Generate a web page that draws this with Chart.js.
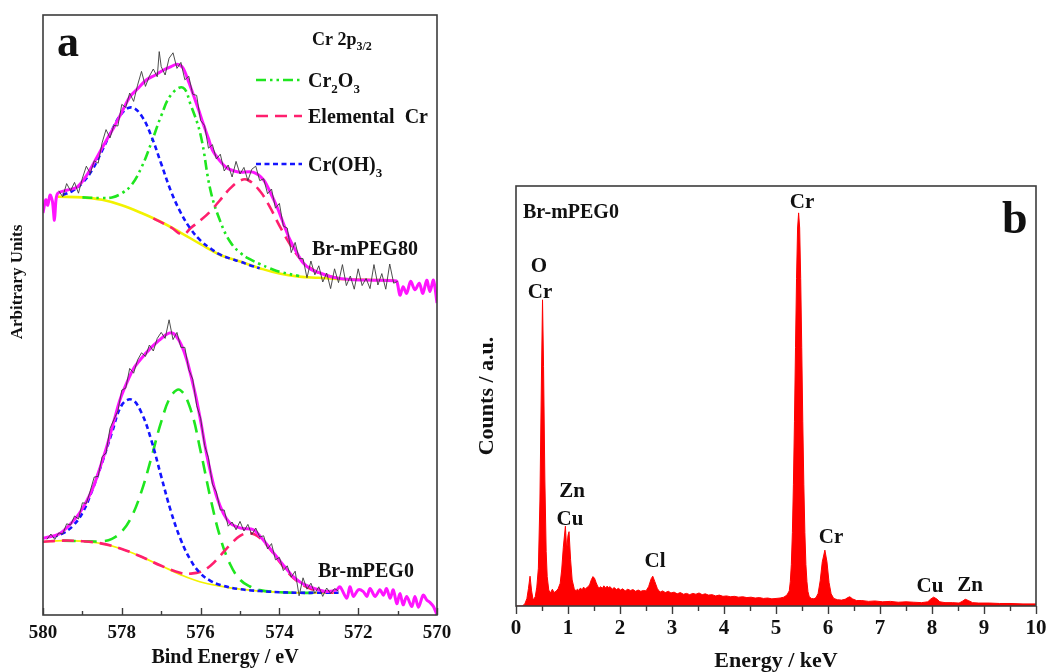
<!DOCTYPE html>
<html>
<head>
<meta charset="utf-8">
<script src="https://cdn.jsdelivr.net/npm/chart.js@4.4.1/dist/chart.umd.min.js"></script>
<style>
  html, body { margin: 0; padding: 0; background: #ffffff; }
  #wrap { position: relative; width: 1047px; height: 672px; overflow: hidden; }
  canvas { position: absolute; left: 0; top: 0; }
</style>
</head>
<body>
<div id="wrap">
  <canvas id="xps" width="1047" height="672"></canvas>
  <canvas id="eds" width="1047" height="672"></canvas>
</div>
<script>
// ---------- Panel a: Cr 2p3/2 XPS, binding energy (eV) vs intensity (arb.) ----------
const xpsTicks = [580, 578, 576, 574, 572, 570];
const xpsMinorTicks = [579, 577, 575, 573, 571];

// Br-mPEG80 (upper spectrum)
const peg80Raw = [[579.6,70.7],[579.5,69.7],[579.4,71.9],[579.3,70.7],[579.2,72.1],[579.1,70.3],[579.0,72.8],[578.9,74.8],[578.8,73.6],[578.7,75.7],[578.6,75.3],[578.5,78.7],[578.4,80.9],[578.3,79.5],[578.2,81.6],[578.1,81.5],[578.0,85.1],[577.9,84.6],[577.8,87.0],[577.7,85.6],[577.6,88.3],[577.5,90.6],[577.4,88.1],[577.3,89.8],[577.2,91.0],[577.1,89.7],[577.05,93.9],[577.0,91.4],[576.9,90.0],[576.8,92.8],[576.7,93.7],[576.6,91.1],[576.5,92.1],[576.4,89.2],[576.3,89.8],[576.2,86.8],[576.1,86.6],[576.0,82.4],[575.9,81.6],[575.8,77.8],[575.7,78.4],[575.6,76.0],[575.5,76.8],[575.4,74.0],[575.3,75.0],[575.2,73.0],[575.1,75.6],[575.0,73.5],[574.9,74.6],[574.8,72.4],[574.7,74.3],[574.6,74.8],[574.5,72.4],[574.4,72.7],[574.3,70.2],[574.2,71.0],[574.1,67.8],[574.0,68.6],[573.9,64.8],[573.8,64.5],[573.7,60.4],[573.6,62.1],[573.5,59.4],[573.4,59.4],[573.3,56.2],[573.2,59.0],[573.1,56.7],[573.0,58.2],[572.9,55.5],[572.8,57.0],[572.7,54.4],[572.6,57.7],[572.5,55.4],[572.4,58.4],[572.3,54.9],[572.2,56.5],[572.1,54.3],[572.0,57.7],[571.9,54.9],[571.8,56.1],[571.7,54.4],[571.6,58.4],[571.5,55.0],[571.4,56.9],[571.3,54.3],[571.2,58.5],[571.1,55.3],[571.0,55.6]];
const peg80Fit = [[580.0,67.0],[579.93,69.2],[579.88,68.3],[579.82,70.0],[579.76,68.9],[579.71,65.8],[579.67,69.2],[579.62,70.3],[579.4,70.8],[579.14,71.3],[578.9,73.2],[578.63,76.3],[578.4,79.0],[578.2,81.3],[578.0,83.8],[577.8,86.3],[577.6,87.7],[577.37,89.2],[577.15,90.0],[576.95,90.8],[576.75,91.4],[576.6,91.8],[576.45,91.2],[576.3,88.8],[576.2,87.0],[576.05,84.2],[575.94,82.0],[575.8,79.4],[575.7,77.5],[575.5,75.6],[575.33,74.5],[575.15,74.0],[575.0,73.8],[574.67,73.8],[574.4,72.5],[574.2,70.0],[574.06,68.0],[573.9,65.3],[573.73,62.5],[573.55,60.3],[573.4,58.7],[573.2,57.6],[572.97,57.0],[572.64,56.3],[572.2,55.9],[571.6,55.8],[571.1,55.7],[571.02,55.6],[570.94,53.3],[570.86,54.7],[570.77,53.6],[570.67,55.6],[570.56,54.2],[570.45,55.3],[570.36,53.6],[570.26,55.8],[570.18,53.9],[570.09,55.8],[570.0,52.0]];
const peg80Cr2O3 = [[579.0,69.6],[578.5,69.5],[578.25,69.6],[578.0,70.3],[577.75,71.7],[577.5,74.6],[577.25,78.7],[577.0,83.2],[576.75,86.7],[576.45,87.9],[576.25,85.0],[576.0,80.0],[575.75,70.8],[575.5,65.6],[575.25,62.2],[575.0,60.4],[574.75,59.3],[574.5,58.5],[574.25,57.8],[574.0,57.2],[573.5,56.5]];
const peg80Metal = [[577.2,66.1],[576.75,64.6],[576.45,63.4],[576.25,64.5],[576.0,65.8],[575.75,67.3],[575.5,69.2],[575.25,71.1],[575.0,72.4],[574.8,72.5],[574.5,70.7],[574.25,68.1],[574.0,64.9],[573.75,62.0],[573.5,59.6],[573.25,58.0],[573.0,57.0],[572.75,56.5],[572.5,56.1]];
const peg80Hydroxide = [[579.5,70.0],[579.25,70.7],[579.0,72.0],[578.75,74.2],[578.5,77.4],[578.25,80.8],[578.0,83.6],[577.75,84.6],[577.5,83.2],[577.25,79.8],[577.0,75.2],[576.75,70.6],[576.5,67.0],[576.25,64.3],[576.0,62.4],[575.75,61.1],[575.5,60.05],[575.25,59.4],[575.0,58.9],[574.75,58.3],[574.5,57.8]];
const peg80Baseline = [[579.62,69.7],[579.0,69.6],[578.5,69.2],[578.0,68.3],[577.5,67.0],[577.0,65.5],[576.5,63.7],[576.0,61.8],[575.5,60.0],[575.0,58.9],[574.5,57.8],[574.0,56.9],[573.5,56.4],[573.0,56.2],[572.5,56.0],[572.0,55.9],[571.1,55.8]];

// Br-mPEG0 (lower spectrum)
const peg0Raw = [[579.9,12.6],[579.8,13.5],[579.7,12.6],[579.6,13.7],[579.5,13.5],[579.4,15.2],[579.3,15.0],[579.2,16.5],[579.1,16.0],[579.0,18.7],[578.9,18.6],[578.8,20.7],[578.7,23.0],[578.6,23.1],[578.5,26.4],[578.4,27.0],[578.3,31.1],[578.2,32.6],[578.1,34.0],[578.0,37.5],[577.9,37.8],[577.8,41.1],[577.7,40.3],[577.6,42.5],[577.5,43.7],[577.4,43.1],[577.3,45.0],[577.2,44.0],[577.1,46.1],[577.0,47.1],[576.9,46.1],[576.8,49.2],[576.7,45.9],[576.6,47.1],[576.5,44.6],[576.4,44.6],[576.3,40.9],[576.2,39.3],[576.1,34.9],[576.0,32.8],[575.9,28.3],[575.8,26.2],[575.7,21.8],[575.6,20.5],[575.5,17.5],[575.4,17.5],[575.3,14.8],[575.2,15.5],[575.1,14.2],[575.0,15.6],[574.9,14.0],[574.8,15.1],[574.7,13.4],[574.6,14.5],[574.5,13.0],[574.4,13.2],[574.3,11.0],[574.2,11.9],[574.1,9.2],[574.0,9.6],[573.9,7.4],[573.8,8.2],[573.7,6.3],[573.6,7.3],[573.5,3.2],[573.4,6.2],[573.3,4.3],[573.2,5.3],[573.1,3.6],[573.0,4.7],[572.9,3.1],[572.8,4.5],[572.7,3.6],[572.6,4.4],[572.5,4.0]];
const peg0Fit = [[580.0,12.8],[579.57,13.6],[579.14,16.4],[578.9,18.9],[578.72,21.4],[578.55,24.6],[578.38,28.1],[578.2,32.3],[578.05,35.8],[577.88,38.6],[577.7,41.1],[577.5,42.8],[577.28,44.4],[577.05,45.8],[576.86,46.8],[576.72,47.0],[576.61,46.4],[576.48,44.9],[576.35,42.5],[576.22,39.2],[576.1,35.8],[575.97,31.3],[575.85,26.9],[575.72,23.0],[575.59,19.7],[575.42,16.9],[575.25,15.3],[575.08,14.7],[574.92,14.4],[574.66,14.2],[574.41,12.5],[574.24,11.1],[574.07,9.7],[573.86,8.0],[573.65,6.4],[573.43,5.3],[573.22,4.7],[573.0,4.2],[572.8,3.9],[572.55,4.2],[572.46,4.7],[572.29,2.8],[572.21,4.7],[572.12,3.1],[572.0,4.2],[571.87,3.9],[571.78,3.1],[571.7,4.4],[571.57,3.1],[571.45,4.2],[571.36,3.3],[571.28,4.4],[571.19,2.8],[571.11,4.2],[571.02,1.9],[570.94,3.6],[570.86,1.7],[570.77,3.1],[570.64,1.4],[570.56,3.1],[570.47,1.3],[570.35,3.3],[570.26,2.5],[570.18,2.1],[570.09,1.4],[570.0,0.0]];
const peg0Cr2O3 = [[579.5,12.4],[579.0,12.3],[578.5,12.3],[578.25,12.7],[578.0,13.9],[577.75,16.4],[577.5,20.6],[577.25,26.2],[577.0,32.2],[576.75,36.5],[576.52,37.5],[576.25,34.2],[576.0,27.3],[575.75,19.5],[575.5,12.9],[575.25,8.45],[575.0,5.9],[574.75,4.75],[574.5,4.15],[574.0,3.8],[573.5,3.7],[573.0,3.7]];
const peg0Metal = [[580.0,12.2],[579.5,12.4],[579.0,12.3],[578.5,11.9],[578.0,11.0],[577.5,9.7],[577.0,8.2],[576.5,7.0],[576.25,6.9],[576.0,7.2],[575.75,8.2],[575.5,9.9],[575.25,11.7],[575.0,13.2],[574.75,13.65],[574.5,12.9],[574.25,11.1],[574.0,8.9],[573.75,6.85],[573.5,5.4],[573.25,4.5],[573.0,4.0],[572.75,3.75],[572.5,3.7]];
const peg0Hydroxide = [[579.75,13.0],[579.5,13.6],[579.25,14.8],[579.0,17.0],[578.75,20.8],[578.5,25.4],[578.25,30.4],[578.0,35.0],[577.75,35.9],[577.5,33.7],[577.25,29.1],[577.0,23.1],[576.75,17.2],[576.5,12.5],[576.25,9.1],[576.0,6.9],[575.75,5.7],[575.5,5.0],[575.0,4.3],[574.5,4.0],[574.0,3.8],[573.5,3.7],[573.0,3.7],[572.5,3.7]];
const peg0Baseline = [[580.0,12.2],[579.5,12.4],[579.0,12.3],[578.5,11.9],[578.0,11.0],[577.5,9.7],[577.0,8.2],[576.5,6.7],[576.0,5.5],[575.5,4.8],[575.0,4.3],[574.5,4.0],[574.0,3.8],[573.5,3.7],[573.0,3.7],[572.5,3.7]];

// ---------- Panel b: EDS spectrum of Br-mPEG0, energy (keV) vs counts (a.u.) ----------
const edsTicks = [0, 1, 2, 3, 4, 5, 6, 7, 8, 9, 10];
const edsMinorTicks = [0.5, 1.5, 2.5, 3.5, 4.5, 5.5, 6.5, 7.5, 8.5, 9.5];
const edsSpectrum = [[0.00,0],[0.12,0],[0.17,0.5],[0.21,1.8],[0.24,4.2],[0.27,7.1],[0.30,3.6],[0.33,1.4],[0.37,2.2],[0.40,4.5],[0.43,9],[0.46,25],[0.49,55],[0.51,72.9],[0.53,57],[0.555,30],[0.58,13],[0.60,7],[0.63,3.8],[0.66,3.1],[0.70,4.0],[0.73,3.2],[0.77,3.5],[0.81,4.1],[0.85,5.4],[0.88,8.8],[0.91,14.0],[0.95,19.0],[0.975,13.3],[1.00,16.8],[1.02,17.7],[1.05,11.0],[1.08,6.2],[1.12,4.1],[1.15,3.6],[1.18,4.0],[1.21,3.7],[1.24,4.3],[1.27,3.8],[1.30,4.5],[1.33,4.0],[1.36,4.4],[1.39,4.6],[1.42,5.2],[1.45,6.3],[1.48,7.0],[1.51,6.6],[1.54,5.6],[1.57,4.7],[1.60,4.3],[1.63,4.6],[1.66,4.2],[1.69,4.8],[1.72,4.3],[1.75,4.7],[1.78,4.4],[1.81,4.6],[1.85,4.0],[1.89,4.4],[1.93,3.9],[1.97,4.2],[2.01,3.8],[2.05,4.1],[2.10,3.6],[2.15,4.0],[2.20,3.7],[2.25,3.9],[2.30,3.5],[2.35,3.8],[2.40,3.5],[2.45,3.7],[2.50,3.6],[2.55,4.6],[2.60,6.5],[2.63,7.1],[2.67,5.8],[2.72,4.1],[2.77,3.3],[2.82,3.6],[2.87,3.2],[2.93,3.5],[2.98,3.1],[3.04,3.3],[3.10,2.9],[3.16,3.2],[3.22,2.8],[3.28,3.0],[3.34,2.7],[3.40,3.0],[3.46,2.8],[3.52,3.1],[3.58,2.7],[3.64,2.9],[3.70,2.6],[3.77,2.7],[3.84,2.4],[3.91,2.6],[3.98,2.3],[4.05,2.4],[4.12,2.2],[4.20,2.3],[4.28,2.1],[4.36,2.2],[4.44,2.0],[4.52,2.1],[4.60,1.9],[4.68,2.0],[4.76,1.8],[4.84,1.9],[4.92,1.7],[5.00,1.8],[5.08,1.9],[5.15,2.1],[5.21,2.6],[5.255,3.6],[5.275,5.8],[5.295,9.9],[5.315,17.5],[5.335,29],[5.355,44],[5.375,61.5],[5.395,78],[5.415,90],[5.435,93.6],[5.455,90],[5.475,78],[5.495,61.5],[5.515,44],[5.535,29],[5.555,17.5],[5.575,9.9],[5.595,5.8],[5.615,3.4],[5.64,2.2],[5.68,1.8],[5.73,1.7],[5.77,2.0],[5.81,3.0],[5.85,6.0],[5.89,10.5],[5.94,13.3],[5.98,10.5],[6.02,5.6],[6.06,2.9],[6.11,1.8],[6.18,1.5],[6.26,1.4],[6.33,1.6],[6.38,2.0],[6.42,2.2],[6.47,1.7],[6.55,1.3],[6.65,1.3],[6.78,1.1],[6.90,1.2],[7.05,1.0],[7.20,1.1],[7.35,0.9],[7.50,1.0],[7.65,0.9],[7.80,0.8],[7.92,1.0],[7.97,1.6],[8.03,2.1],[8.09,1.7],[8.15,1.0],[8.25,0.8],[8.40,0.8],[8.52,0.7],[8.58,1.1],[8.64,1.6],[8.70,1.3],[8.78,0.8],[8.90,0.7],[9.10,0.7],[9.30,0.6],[9.50,0.6],[9.75,0.5],[10.0,0.5]];

// ---------- drawing helpers ----------
const SERIF = "'Liberation Serif','Times New Roman',Times,serif";
const toXY = arr => arr.map(([x, y]) => ({ x, y }));
const bold = size => `bold ${size}px ${SERIF}`;

// text with optional subscript parts: parts = [[text, isSub], ...]
function richText(ctx, x, y, parts, size, align) {
  const subSize = Math.round(size * 0.65);
  let w = 0;
  parts.forEach(([t, sub]) => { ctx.font = bold(sub ? subSize : size); w += ctx.measureText(t).width; });
  let cx = align === 'center' ? x - w / 2 : x;
  ctx.textAlign = 'left';
  ctx.textBaseline = 'alphabetic';
  parts.forEach(([t, sub]) => {
    ctx.font = bold(sub ? subSize : size);
    ctx.fillText(t, cx, sub ? y + size * 0.3 : y);
    cx += ctx.measureText(t).width;
  });
}

// box around the plotting area
const frame = {
  id: 'frame',
  afterDatasetsDraw(chart) {
    const { ctx, chartArea: a } = chart;
    ctx.save();
    ctx.strokeStyle = '#3c3c3c';
    ctx.lineWidth = 1.6;
    ctx.strokeRect(a.left, a.top, a.right - a.left, a.bottom - a.top);
    ctx.restore();
  }
};

// major/minor tick marks on the energy axis
function tickMarks(major, minor, majorLen, minorLen) {
  return {
    id: 'tickMarks',
    afterDatasetsDraw(chart) {
      const { ctx, chartArea: a, scales: { x } } = chart;
      ctx.save();
      ctx.strokeStyle = '#3c3c3c';
      ctx.lineWidth = 1.4;
      const mark = (v, len) => {
        const px = Math.round(x.getPixelForValue(v)) + 0.5;
        ctx.beginPath();
        ctx.moveTo(px, a.bottom);
        ctx.lineTo(px, a.bottom + len);
        ctx.stroke();
      };
      major.forEach(v => mark(v, majorLen));
      minor.forEach(v => mark(v, minorLen));
      ctx.restore();
    }
  };
}

const GREEN = '#1fe61f', PINK = '#ff1f6e', BLUE = '#1414ff', MAGENTA = '#ff14ff', YELLOW = '#f2f200';
const DASH_DOT = [10, 4, 2.5, 4, 2.5, 4];
const DASH = [12, 7];
const DOTS = [5, 3.5];

// annotations of panel a
const xpsText = {
  id: 'xpsText',
  afterDraw(chart) {
    const { ctx } = chart;
    ctx.save();
    ctx.fillStyle = '#111';
    ctx.font = bold(44);
    ctx.textAlign = 'left';
    ctx.textBaseline = 'alphabetic';
    ctx.fillText('a', 57, 56);
    richText(ctx, 312, 45, [['Cr 2p', false], ['3/2', true]], 18, 'left');

    const legend = [
      { color: GREEN, dash: DASH_DOT, y: 80, parts: [['Cr', false], ['2', true], ['O', false], ['3', true]] },
      { color: PINK, dash: DASH, y: 116, parts: [['Elemental  Cr', false]] },
      { color: BLUE, dash: DOTS, y: 164, parts: [['Cr(OH)', false], ['3', true]] }
    ];
    legend.forEach(item => {
      ctx.save();
      ctx.strokeStyle = item.color;
      ctx.lineWidth = 2.6;
      ctx.setLineDash(item.dash);
      ctx.beginPath();
      ctx.moveTo(256, item.y);
      ctx.lineTo(302, item.y);
      ctx.stroke();
      ctx.restore();
      ctx.fillStyle = '#111';
      richText(ctx, 308, item.y + 7, item.parts, 20, 'left');
    });

    ctx.font = bold(20);
    ctx.fillText('Br-mPEG80', 312, 255);
    ctx.fillText('Br-mPEG0', 318, 577);

    ctx.textAlign = 'center';
    ctx.textBaseline = 'middle';
    ctx.font = bold(20);
    ctx.fillText('Bind Energy / eV', 225, 658);
    ctx.save();
    ctx.translate(18, 282);
    ctx.rotate(-Math.PI / 2);
    ctx.font = bold(17);
    ctx.fillText('Arbitrary Units', 0, 0);
    ctx.restore();
    ctx.restore();
  }
};

// element labels of panel b
const edsText = {
  id: 'edsText',
  afterDraw(chart) {
    const { ctx } = chart;
    ctx.save();
    ctx.fillStyle = '#111';
    ctx.textAlign = 'left';
    ctx.textBaseline = 'alphabetic';
    ctx.font = bold(20);
    ctx.fillText('Br-mPEG0', 523, 218);
    ctx.font = bold(46);
    ctx.fillText('b', 1002, 233);
    ctx.font = bold(21);
    ctx.textAlign = 'center';
    [['O', 539, 272], ['Cr', 540, 298], ['Cr', 802, 208], ['Zn', 572, 497], ['Cu', 570, 525],
     ['Cl', 655, 567], ['Cr', 831, 543], ['Cu', 930, 592], ['Zn', 970, 591]]
      .forEach(([t, x, y]) => ctx.fillText(t, x, y));
    ctx.restore();
  }
};

function xpsLine(data, color, width, dash, order, tension) {
  return {
    data: toXY(data), borderColor: color, borderWidth: width, borderDash: dash || [],
    pointRadius: 0, fill: false, tension: tension, order: order
  };
}

// horizontal scales keep no extra side padding for their end labels
const noSidePadding = s => { s.paddingLeft = 0; s.paddingRight = 0; };

new Chart(document.getElementById('xps'), {
  type: 'line',
  data: {
    datasets: [
      xpsLine(peg80Raw, '#3a3a3a', 0.9, null, 0, 0),
      xpsLine(peg0Raw, '#3a3a3a', 0.9, null, 0, 0),
      xpsLine(peg80Fit, MAGENTA, 3, null, 1, 0.3),
      xpsLine(peg0Fit, MAGENTA, 3, null, 1, 0.3),
      xpsLine(peg80Hydroxide, BLUE, 2.6, DOTS, 2, 0.4),
      xpsLine(peg0Hydroxide, BLUE, 2.6, DOTS, 2, 0.4),
      xpsLine(peg80Metal, PINK, 2.6, DASH, 3, 0.4),
      xpsLine(peg0Metal, PINK, 2.6, DASH, 3, 0.4),
      xpsLine(peg80Cr2O3, GREEN, 2.6, DASH_DOT, 4, 0.4),
      xpsLine(peg0Cr2O3, GREEN, 2.6, [13, 8], 4, 0.4),
      xpsLine(peg80Baseline, YELLOW, 2.6, null, 5, 0.4),
      xpsLine(peg0Baseline, YELLOW, 1.8, null, 5, 0.4)
    ]
  },
  options: {
    responsive: false, animation: false, devicePixelRatio: 1,
    layout: { padding: { left: 0, right: 610, top: 15, bottom: 0 } },
    plugins: { legend: { display: false }, tooltip: { enabled: false } },
    scales: {
      x: {
        type: 'linear', min: 570, max: 580, reverse: true,
        afterBuildTicks: s => { s.ticks = xpsTicks.map(v => ({ value: v })); },
        afterFit: s => { s.height = 57; noSidePadding(s); },
        grid: { display: false, drawTicks: false }, border: { display: false },
        ticks: { font: { family: SERIF, size: 19, weight: 'bold' }, color: '#111', padding: 7, maxRotation: 0, autoSkip: false }
      },
      y: {
        type: 'linear', min: 0, max: 100,
        afterFit: s => { s.width = 43; },
        grid: { display: false, drawTicks: false }, border: { display: false },
        ticks: { display: false }
      }
    }
  },
  plugins: [frame, tickMarks(xpsTicks, xpsMinorTicks, -7, -4), xpsText]
});

new Chart(document.getElementById('eds'), {
  type: 'line',
  data: {
    datasets: [{
      data: toXY(edsSpectrum), borderColor: '#ff0000', backgroundColor: '#ff0000',
      borderWidth: 1, pointRadius: 0, fill: 'origin', tension: 0
    }]
  },
  options: {
    responsive: false, animation: false, devicePixelRatio: 1,
    layout: { padding: { left: 460, right: 11, top: 186, bottom: 0 } },
    plugins: { legend: { display: false }, tooltip: { enabled: false } },
    scales: {
      x: {
        type: 'linear', min: 0, max: 10,
        afterBuildTicks: s => { s.ticks = edsTicks.map(v => ({ value: v })); },
        afterFit: s => { s.height = 66; noSidePadding(s); },
        grid: { display: false, drawTicks: false }, border: { display: false },
        ticks: { font: { family: SERIF, size: 21, weight: 'bold' }, color: '#111', padding: 10, maxRotation: 0, autoSkip: false },
        title: { display: true, text: 'Energy / keV', color: '#111', font: { family: SERIF, size: 22, weight: 'bold', lineHeight: 1 }, padding: 0 }
      },
      y: {
        type: 'linear', min: 0, max: 100,
        afterFit: s => { s.width = 56; },
        grid: { display: false, drawTicks: false }, border: { display: false },
        ticks: { display: false },
        title: { display: true, text: 'Counts / a.u.', color: '#111', font: { family: SERIF, size: 22, weight: 'bold', lineHeight: 1 }, padding: { top: 16, bottom: 0 } }
      }
    }
  },
  plugins: [frame, tickMarks(edsTicks, edsMinorTicks, 8, 5), edsText]
});
</script>
</body>
</html>
